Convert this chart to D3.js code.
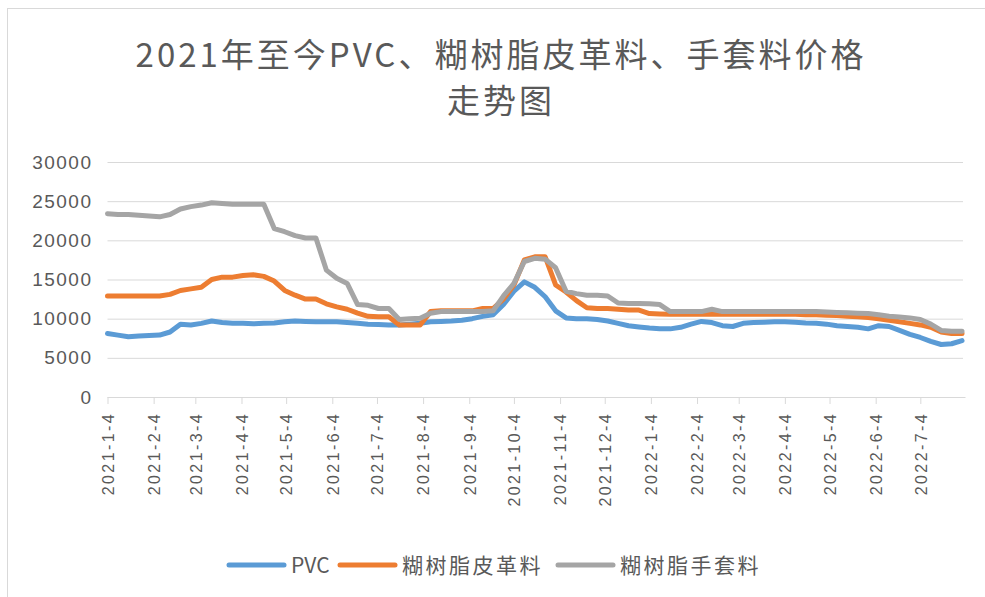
<!DOCTYPE html>
<html>
<head>
<meta charset="utf-8">
<script src="https://cdn.jsdelivr.net/npm/d3@7"></script>
<style>
  body { margin: 0; background: #fff; }
  svg { display: block; }
</style>
</head>
<body>
<div id="my_graphic"></div>
<script>
// weekly samples
const dates = [
  "2021-01-04","2021-01-11","2021-01-18","2021-01-25","2021-02-01","2021-02-08","2021-02-15","2021-02-22",
  "2021-03-01","2021-03-08","2021-03-15","2021-03-22","2021-03-29","2021-04-05","2021-04-12","2021-04-19",
  "2021-04-26","2021-05-03","2021-05-10","2021-05-17","2021-05-24","2021-05-31","2021-06-07","2021-06-14",
  "2021-06-21","2021-06-28","2021-07-05","2021-07-12","2021-07-19","2021-07-26","2021-08-02","2021-08-09",
  "2021-08-16","2021-08-23","2021-08-30","2021-09-06","2021-09-13","2021-09-20","2021-09-27","2021-10-04",
  "2021-10-11","2021-10-18","2021-10-25","2021-11-01","2021-11-08","2021-11-15","2021-11-22","2021-11-29",
  "2021-12-06","2021-12-13","2021-12-20","2021-12-27","2022-01-03","2022-01-10","2022-01-17","2022-01-24",
  "2022-01-31","2022-02-07","2022-02-14","2022-02-21","2022-02-28","2022-03-07","2022-03-14","2022-03-21",
  "2022-03-28","2022-04-04","2022-04-11","2022-04-18","2022-04-25","2022-05-02","2022-05-09","2022-05-16",
  "2022-05-23","2022-05-30","2022-06-06","2022-06-13","2022-06-20","2022-06-27","2022-07-04","2022-07-11",
  "2022-07-18","2022-07-25","2022-08-01"
];

const pvc = [
  8100, 7900, 7700, 7800, 7850, 7900, 8300, 9300, 9200, 9400, 9700, 9500, 9400, 9400, 9350, 9400,
  9450, 9600, 9700, 9650, 9600, 9600, 9600, 9500, 9400, 9300, 9250, 9200, 9200, 9300, 9400, 9600,
  9650, 9700, 9800, 10000, 10300, 10500, 11800, 13500, 14700, 14000, 12800, 11000, 10100, 10000, 10000, 9900,
  9700, 9400, 9100, 8950, 8800, 8700, 8700, 8900, 9300, 9650, 9500, 9100, 9000, 9400, 9500, 9550,
  9600, 9600, 9550, 9450, 9400, 9300, 9100, 9000, 8900, 8700, 9100, 9000, 8500, 8000, 7600, 7100,
  6700, 6800, 7200
];

const leather = [
  12900, 12900, 12900, 12900, 12900, 12900, 13100, 13600, 13800, 14000, 15000, 15300, 15300, 15500, 15600, 15400,
  14800, 13600, 13000, 12500, 12500, 11900, 11500, 11200, 10700, 10300, 10250, 10250, 9200, 9200, 9200, 10900,
  11000, 11000, 11000, 11000, 11300, 11300, 12500, 14300, 17500, 17900, 17900, 14300, 13400, 12300, 11400, 11300,
  11300, 11200, 11100, 11100, 10650, 10600, 10550, 10550, 10550, 10550, 10550, 10550, 10550, 10550, 10550, 10550,
  10550, 10550, 10550, 10500, 10500, 10450, 10400, 10300, 10250, 10150, 10000, 9800, 9600, 9400, 9200, 8900,
  8300, 8100, 8100
];

const glove = [
  23400, 23300, 23300, 23200, 23100, 23000, 23300, 24000, 24300, 24500, 24800, 24700, 24600, 24600, 24600, 24600,
  21500, 21100, 20600, 20300, 20300, 16200, 15150, 14500, 11800, 11700, 11300, 11300, 9900, 10000, 10050, 10700,
  10900, 10900, 10900, 10900, 10900, 11000, 12900, 14500, 17300, 17700, 17600, 16500, 13500, 13200, 13000, 13000,
  12900, 12000, 11950, 11950, 11900, 11800, 10900, 10900, 10900, 10900, 11200, 10900, 10900, 10900, 10900, 10900,
  10900, 10900, 10900, 10900, 10900, 10850, 10800, 10750, 10700, 10650, 10500, 10300, 10200, 10100, 9900, 9300,
  8500, 8400, 8400
];

const seriesNames = ["PVC", "糊树脂皮革料", "糊树脂手套料"];
const seriesColors = ["#5b9bd5", "#ed7d31", "#a5a5a5"];
const yTicks = [0, 5000, 10000, 15000, 20000, 25000, 30000];
const xTicks = [
  "2021-01-04","2021-02-04","2021-03-04","2021-04-04","2021-05-04","2021-06-04","2021-07-04","2021-08-04",
  "2021-09-04","2021-10-04","2021-11-04","2021-12-04","2022-01-04","2022-02-04","2022-03-04","2022-04-04",
  "2022-05-04","2022-06-04","2022-07-04"
];
const titleLines = ["2021年至今PVC、糊树脂皮革料、手套料价格", "走势图"];

draw_plot();

function draw_plot() {
    const W = 985, H = 597;
    const parse = d3.timeParse("%Y-%m-%d");
    const margin = {top: 162, right: 20, bottom: 200, left: 107.5};

    const svg = d3.select("#my_graphic")
        .append("svg")
        .attr("width", W)
        .attr("height", H);

    // chart area border (only top and left visible in the crop)
    svg.append("rect")
        .attr("x", 7.5).attr("y", 8.5)
        .attr("width", 1200).attr("height", 1200)
        .attr("fill", "none")
        .attr("stroke", "#d9d9d9");

    // title, wrapped on two lines
    svg.append("text")
        .attr("text-anchor", "middle")
        .style("font-family", "'Noto Sans CJK SC', 'Noto Sans', sans-serif")
        .style("font-size", "33px")
        .style("letter-spacing", "3px")
        .attr("fill", "#595959")
        .selectAll("tspan")
        .data(titleLines)
        .join("tspan")
        .attr("x", 501)
        .attr("y", (d, i) => 67 + i * 46)
        .text(d => d);

    const x = d3.scaleTime()
        .domain([parse("2021-01-04"), parse("2022-08-03")])
        .range([margin.left, 965]);

    const y = d3.scaleLinear()
        .domain([0, 30000])
        .range([397, margin.top]);

    // grid lines
    svg.append("g")
        .attr("transform", `translate(${margin.left},0)`)
        .call(d3.axisRight(y).tickValues(yTicks).tickSize(963 - margin.left).tickFormat(""))
        .call(g => g.select(".domain").remove())
        .call(g => g.selectAll(".tick line").attr("stroke", "#d9d9d9"));

    // y labels
    svg.append("g")
        .attr("transform", `translate(${margin.left},0)`)
        .call(d3.axisLeft(y).tickValues(yTicks).tickFormat(d3.format("d")).tickSize(0).tickPadding(15))
        .call(g => g.select(".domain").remove())
        .call(g => g.selectAll(".tick text")
            .attr("fill", "#595959")
            .style("font-family", "'Liberation Sans', Arial, sans-serif")
            .style("font-size", "19px")
            .style("letter-spacing", "1.5px"));

    // x axis
    const fmt = d3.timeFormat("%Y-%-m-%-d");
    svg.append("g")
        .attr("transform", `translate(0,${y(0)})`)
        .call(d3.axisBottom(x).tickValues(xTicks.map(parse)).tickFormat(fmt).tickSize(7).tickSizeOuter(0))
        .call(g => g.select(".domain").attr("stroke", "#d9d9d9"))
        .call(g => g.selectAll(".tick line").attr("stroke", "#d9d9d9"))
        .call(g => g.selectAll(".tick text")
            .attr("transform", "rotate(-90)")
            .attr("text-anchor", "end")
            .attr("x", -15)
            .attr("y", 0)
            .attr("dy", "0.36em")
            .attr("fill", "#595959")
            .style("font-family", "'Liberation Sans', Arial, sans-serif")
            .style("font-size", "16px")
            .style("letter-spacing", "2.4px"));

    // lines
    const series = [pvc, leather, glove].map((vals, k) => ({
        name: seriesNames[k],
        color: seriesColors[k],
        values: vals.map((v, i) => ({date: parse(dates[i]), v: v}))
    }));

    const line = d3.line()
        .x(d => x(d.date))
        .y(d => y(d.v));

    svg.append("g")
        .selectAll("path")
        .data(series)
        .join("path")
        .attr("fill", "none")
        .attr("stroke", d => d.color)
        .attr("stroke-width", 5)
        .attr("stroke-linejoin", "round")
        .attr("stroke-linecap", "round")
        .attr("d", d => line(d.values));

    // legend
    const legendX = [229, 340, 558];
    const legend = svg.selectAll(".legend")
        .data(series)
        .join("g")
        .attr("class", "legend")
        .attr("transform", (d, i) => `translate(${legendX[i]},565)`);

    legend.append("line")
        .attr("x1", 0).attr("x2", 55)
        .attr("stroke", d => d.color)
        .attr("stroke-width", 5)
        .attr("stroke-linecap", "round");

    legend.append("text")
        .attr("x", 62)
        .attr("dy", "0.36em")
        .attr("fill", "#595959")
        .style("font-family", "'Noto Sans CJK SC', 'Liberation Sans', sans-serif")
        .style("font-size", "21px")
        .style("letter-spacing", (d, i) => i === 0 ? "0px" : "2.5px")
        .text(d => d.name);
}
</script>
</body>
</html>
